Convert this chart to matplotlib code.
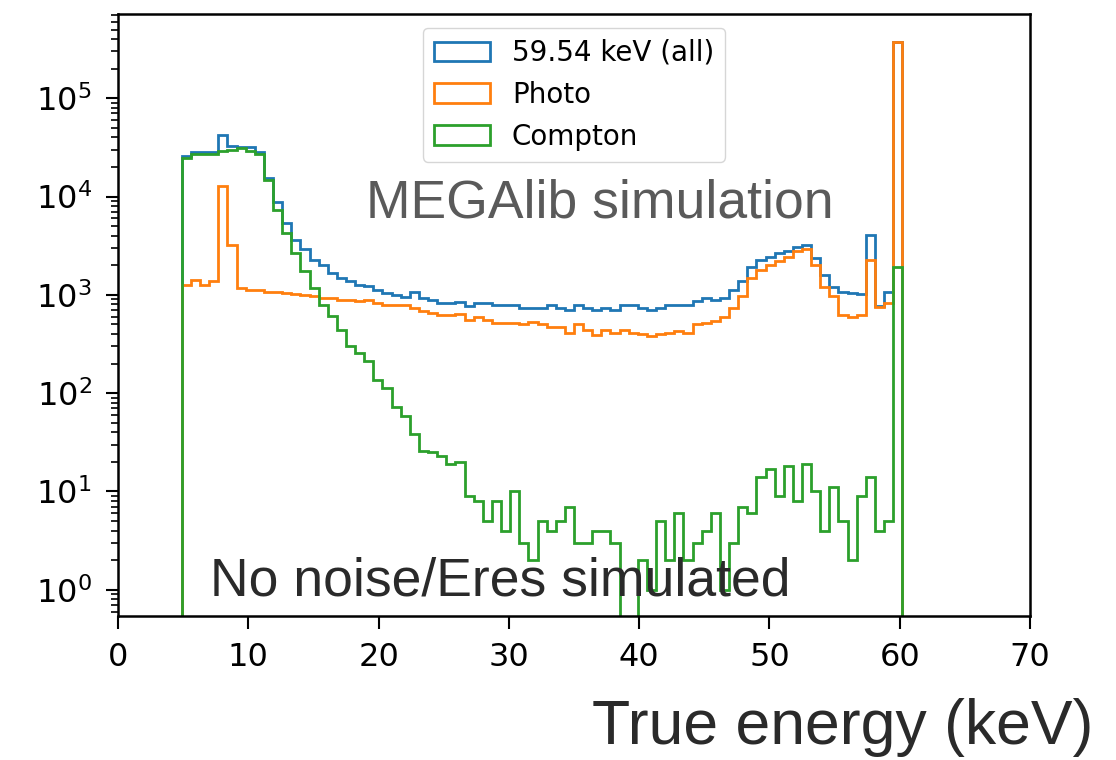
import numpy as np
import matplotlib
matplotlib.use("Agg")
from matplotlib import pyplot as plt
from matplotlib.ticker import NullFormatter

# 100 bins of 0.7 keV from 0 to 70 keV
edges = np.linspace(0, 70, 101)

# counts per bin (bins 0..99)
all_counts = [
    0, 0, 0, 0, 0, 0, 0, 25600, 28500, 28500,
    28500, 42500, 33000, 32000, 32000, 28500, 15300, 8700, 5350, 3600,
    2900, 2270, 2000, 1670, 1480, 1370, 1260, 1220, 1130, 1040,
    1000, 960, 1060, 925, 880, 825, 825, 840, 770, 826,
    826, 790, 790, 790, 735, 735, 735, 794, 735, 704,
    794, 735, 704, 735, 704, 794, 794, 735, 700, 735,
    794, 794, 794, 860, 930, 880, 930, 1120, 1370, 1900,
    2270, 2450, 2660, 2800, 3100, 3250, 2360, 1600, 1200, 1080,
    1050, 1030, 4100, 770, 1070, 372000, 0, 0, 0, 0,
    0, 0, 0, 0, 0, 0, 0, 0, 0, 0,
]
photo_counts = [
    0, 0, 0, 0, 0, 0, 0, 1260, 1420, 1260,
    1370, 12700, 3200, 1170, 1130, 1130, 1080, 1080, 1040, 1020,
    1000, 963, 925, 925, 890, 890, 856, 890, 825, 793,
    793, 790, 740, 680, 650, 630, 630, 640, 560, 590,
    560, 520, 520, 520, 500, 530, 500, 473, 473, 412,
    500, 442, 392, 442, 412, 442, 412, 400, 380, 400,
    412, 430, 405, 500, 520, 540, 590, 730, 980, 1500,
    1800, 2000, 2200, 2450, 2800, 2950, 2000, 1200, 980, 625,
    600, 625, 2270, 760, 830, 370000, 0, 0, 0, 0,
    0, 0, 0, 0, 0, 0, 0, 0, 0, 0,
]
compton_counts = [
    0, 0, 0, 0, 0, 0, 0, 24600, 27000, 27000,
    27000, 29200, 30000, 31000, 29000, 27000, 14800, 7300, 4250, 2660,
    1730, 1170, 780, 603, 442, 299, 256, 210, 137, 112,
    73, 58, 38, 26, 25, 23, 19, 20, 9, 8,
    5, 8, 4, 10, 3, 2, 5, 4, 5, 7,
    3, 3, 4, 4, 3, 0, 0, 2, 1, 5,
    2, 6, 2, 3, 4, 6, 1, 3, 7, 6,
    14, 17, 9, 18, 8, 19, 10, 4, 11, 5,
    2, 9, 14, 4, 5, 1900, 0, 0, 0, 0,
    0, 0, 0, 0, 0, 0, 0, 0, 0, 0,
]
labels = ["59.54 keV (all)", "Photo", "Compton"]
colors = ["#1f77b4", "#ff7f0e", "#2ca02c"]

centers = 0.5 * (edges[:-1] + edges[1:])

fig = plt.figure(figsize=(11.16, 7.6), dpi=100)
ax = fig.add_axes([118 / 1116, 1 - 616 / 760, 912 / 1116, 602 / 760])

for counts, lab, col in zip([all_counts, photo_counts, compton_counts], labels, colors):
    ax.hist(centers, bins=edges, weights=counts, histtype="step",
            log=True, color=col, linewidth=2.0, label=lab)

ax.set_xlim(0, 70)
ax.set_ylim(0.54, 7.2e5)
ax.set_xticks(range(0, 71, 10))
ax.yaxis.set_minor_formatter(NullFormatter())

ax.tick_params(which="major", labelsize=23, length=9, width=1.5, pad=10)
ax.tick_params(which="minor", length=5, width=1.2)
for s in ax.spines.values():
    s.set_linewidth(1.8)

ax.legend(loc="upper center", fontsize=20, borderaxespad=0.5)

fig.text(366 / 1116, 1 - 217 / 760, "MEGAlib simulation", fontsize=38.5,
         family="Liberation Sans", color="#5a5a5a", va="baseline")
fig.text(210 / 1116, 1 - 595 / 760, "No noise/Eres simulated", fontsize=38.5,
         family="Liberation Sans", color="#2a2a2a", va="baseline")
fig.text(592 / 1116, 1 - 744 / 760, "True energy (keV)", fontsize=45,
         family="Liberation Sans", color="#2a2a2a", va="baseline")

fig.savefig("out.png", dpi=100)
